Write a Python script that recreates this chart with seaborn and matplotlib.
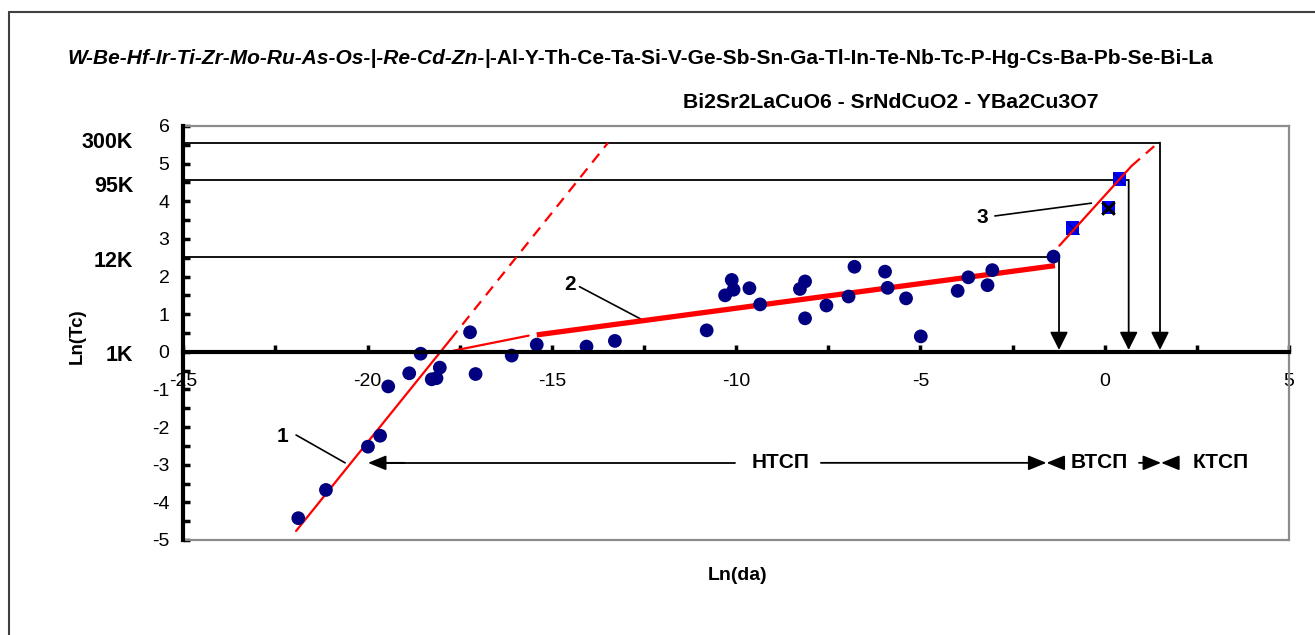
import matplotlib
matplotlib.use("Agg")
import matplotlib.pyplot as plt
import seaborn as sns
import pandas as pd
from matplotlib.lines import Line2D
from matplotlib.ticker import MultipleLocator

# ---------------- data ----------------
circle_x = [-21.88, -21.13, -19.99, -19.66, -19.44, -18.87, -18.56, -18.26, -18.13, -18.04,
            -17.22, -17.07, -16.09, -15.41, -14.06, -13.29,
            -10.80, -10.30, -10.12, -10.07, -9.64, -9.35, -8.27, -8.13, -8.13, -7.55,
            -6.95, -6.79, -5.96, -5.89, -5.39, -4.99, -3.99, -3.70, -3.18, -3.05, -1.39]
circle_y = [-4.42, -3.67, -2.52, -2.23, -0.92, -0.57, -0.05, -0.73, -0.70, -0.42,
            0.52, -0.59, -0.10, 0.19, 0.14, 0.29,
            0.57, 1.50, 1.91, 1.65, 1.69, 1.26, 1.67, 1.87, 0.89, 1.23,
            1.47, 2.26, 2.13, 1.70, 1.42, 0.41, 1.62, 1.98, 1.77, 2.17, 2.53]

square_x = [-0.87, 0.10, 0.39]
square_y = [3.29, 3.83, 4.59]
cross_x = [0.10]
cross_y = [3.83]

trend1_x = [-21.94, -17.75]
trend1_y = [-4.76, 0.33]
trend1_ext_x = [-17.75, -13.48]
trend1_ext_y = [0.33, 5.55]
trend2_x = [-15.41, -1.35]
trend2_y = [0.45, 2.29]
trend2_ext_x = [-17.67, -15.63]
trend2_ext_y = [0.03, 0.43]
trend3_x = [-1.23, 0.73]
trend3_y = [2.82, 4.94]
trend3_ext_x = [0.73, 1.35]
trend3_ext_y = [4.94, 5.47]

guide_y = [5.56, 4.57, 2.53]
guide_x_end = [1.50, 0.65, -1.24]
temp_labels = ["300K", "95K", "12K", "1K"]
temp_label_y = [5.57, 4.38, 2.39, -0.11]

x_ticks = [-25, -20, -15, -10, -5, 0, 5]
y_ticks = [-5, -4, -3, -2, -1, 0, 1, 2, 3, 4, 5, 6]

title_italic = "W-Be-Hf-Ir-Ti-Zr-Mo-Ru-As-Os-|-Re-Cd-Zn-"
title_normal = "|-Al-Y-Th-Ce-Ta-Si-V-Ge-Sb-Sn-Ga-Tl-In-Te-Nb-Tc-P-Hg-Cs-Ba-Pb-Se-Bi-La"
subtitle = "Bi2Sr2LaCuO6 - SrNdCuO2 - YBa2Cu3O7"

# ---------------- style ----------------
sns.set_style("white")
plt.rcParams["font.family"] = ["Liberation Sans", "DejaVu Sans"]
plt.rcParams["text.color"] = "black"
plt.rcParams["axes.labelcolor"] = "black"
plt.rcParams["xtick.color"] = "black"
plt.rcParams["ytick.color"] = "black"

W, H = 1315, 635
fig = plt.figure(figsize=(W / 100, H / 100), dpi=100)
ax = fig.add_axes([183.3 / W, (H - 540) / H, (1289 - 183.3) / W, (540 - 126) / H])

ax.set_xlim(-25, 5)
ax.set_ylim(-5, 6)

# guide lines with down arrows
for gy, gx in zip(guide_y, guide_x_end):
    ax.plot([-25, gx], [gy, gy], color="black", lw=1.3, zorder=2, solid_capstyle="butt")
    ax.annotate("", xy=(gx, 0.05), xytext=(gx, gy),
                arrowprops=dict(arrowstyle="-|>,head_length=1.1,head_width=0.55",
                                color="black", lw=1.3, shrinkA=0, shrinkB=0,
                                mutation_scale=10), zorder=3)

# trend lines
ax.plot(trend1_x, trend1_y, color="red", lw=1.6, zorder=4)
ax.plot(trend1_ext_x, trend1_ext_y, color="red", lw=1.6, ls=(0, (5, 3.5)), zorder=4)
ax.plot(trend2_ext_x, trend2_ext_y, color="red", lw=1.6, zorder=4)
ax.plot(trend2_x, trend2_y, color="red", lw=3.8, zorder=4, solid_capstyle="butt")

# points
df_c = pd.DataFrame({"x": circle_x, "y": circle_y})
sns.scatterplot(data=df_c, x="x", y="y", ax=ax, color="#000080", s=98,
                edgecolor="none", zorder=6, clip_on=False)
df_s = pd.DataFrame({"x": square_x, "y": square_y})
sns.scatterplot(data=df_s, x="x", y="y", ax=ax, color="#0000FF", marker="s", s=90,
                edgecolor="none", zorder=5)
sns.scatterplot(data=df_s, x="x", y="y", ax=ax, color="#000060", marker="x", s=80,
                linewidth=0.7, zorder=5.5)
df_x = pd.DataFrame({"x": cross_x, "y": cross_y})
sns.scatterplot(data=df_x, x="x", y="y", ax=ax, color="black", marker="x", s=80,
                linewidth=2.2, zorder=5.6)

ax.plot(trend3_x, trend3_y, color="red", lw=1.6, zorder=7)
ax.plot(trend3_ext_x, trend3_ext_y, color="red", lw=1.6, ls=(0, (5, 3.5)), zorder=7)

# axes styling
ax.set_xlabel("")
ax.set_ylabel("")
for s in ["top", "right"]:
    ax.spines[s].set_color("#8c8c8c")
    ax.spines[s].set_linewidth(1.6)
ax.spines["left"].set_color("black")
ax.spines["left"].set_linewidth(3.0)
ax.spines["bottom"].set_position(("data", 0))
ax.spines["bottom"].set_color("black")
ax.spines["bottom"].set_linewidth(3.0)
ax.spines["bottom"].set_zorder(8)
ax.spines["left"].set_zorder(8)
ax.plot([-25, 5], [-5, -5], color="#8c8c8c", lw=1.6, clip_on=False, zorder=1)

ax.set_xticks(x_ticks)
ax.set_xticklabels([str(v) for v in x_ticks])
ax.set_yticks(y_ticks)
ax.set_yticklabels([str(v) for v in y_ticks])
ax.xaxis.set_minor_locator(MultipleLocator(2.5))
ax.yaxis.set_minor_locator(MultipleLocator(0.5))
ax.tick_params(axis="x", which="both", direction="in", length=5, width=2.5,
               color="black", labelcolor="black", bottom=True, top=False)
ax.tick_params(axis="x", which="major", labelsize=14, pad=15)
ax.tick_params(axis="y", which="both", direction="in", length=5, width=2.5,
               color="black", labelcolor="black", left=True, right=False)
ax.tick_params(axis="y", which="major", labelsize=14, pad=10)
ax.grid(False)

# temperature labels
for lab, ly in zip(temp_labels, temp_label_y):
    ax.text(-26.36, ly, lab, ha="right", va="center", fontsize=15.5,
            fontweight="bold", color="black", clip_on=False)

# curve labels with leader lines
ax.text(-22.32, -2.26, "1", ha="center", va="center", fontsize=15, fontweight="bold", color="black")
ax.plot([-21.94, -20.61], [-2.21, -2.95], color="black", lw=1.2, zorder=3)
ax.text(-14.51, 1.78, "2", ha="center", va="center", fontsize=15, fontweight="bold", color="black")
ax.plot([-14.25, -12.45], [1.73, 0.80], color="black", lw=1.2, zorder=3)
ax.text(-3.31, 3.58, "3", ha="center", va="center", fontsize=15, fontweight="bold", color="black")
ax.plot([-2.98, -0.36], [3.61, 3.95], color="black", lw=1.2, zorder=3)

# range arrows
ay = -2.95
ap = dict(color="black", lw=1.3, shrinkA=0, shrinkB=0, mutation_scale=10,
          arrowstyle="-|>,head_length=1.1,head_width=0.45")
ax.plot([-10.03, -19.5], [ay, ay], color="black", lw=1.3)
ax.annotate("", xy=(-19.99, ay), xytext=(-19.0, ay), arrowprops=ap)
ax.text(-8.80, ay, "НТСП", ha="center", va="center", fontsize=15, fontweight="bold", color="black")
ax.annotate("", xy=(-1.58, ay), xytext=(-7.70, ay), arrowprops=ap)
ax.annotate("", xy=(-1.58, ay), xytext=(-1.20, ay), arrowprops=ap)
ax.text(-0.16, ay, "ВТСП", ha="center", va="center", fontsize=15, fontweight="bold", color="black")
ax.annotate("", xy=(1.53, ay), xytext=(0.93, ay), arrowprops=ap)
ax.annotate("", xy=(1.53, ay), xytext=(1.95, ay), arrowprops=ap)
ax.text(3.16, ay, "КТСП", ha="center", va="center", fontsize=15, fontweight="bold", color="black")

# axis titles
fig.text(77 / W, 1 - 336 / H, "Ln(Tc)", rotation=90, ha="center", va="center",
         fontsize=13.5, fontweight="bold", color="black")
fig.text(738 / W, 1 - 576 / H, "Ln(da)", ha="center", va="center",
         fontsize=14, fontweight="bold", color="black")

# header texts
t1 = fig.text(67 / W, 1 - 58 / H, title_italic, ha="left", va="center",
              fontsize=15, fontweight="bold", fontstyle="italic", color="black")
ax.annotate(title_normal, xy=(1, 0), xycoords=t1, ha="left", va="bottom",
            fontsize=15, fontweight="bold", color="black", annotation_clip=False)
fig.text(683 / W, 1 - 103 / H, subtitle, ha="left", va="center",
         fontsize=15.3, fontweight="bold", color="black")

# outer frame (left and top edges)
fig.add_artist(Line2D([9 / W, 9 / W], [0, 1 - 12 / H], transform=fig.transFigure,
                      color="#404040", lw=1.5))
fig.add_artist(Line2D([9 / W, 1], [1 - 12 / H, 1 - 12 / H], transform=fig.transFigure,
                      color="#404040", lw=1.5))

fig.savefig("out.png", dpi=100, facecolor="white")
